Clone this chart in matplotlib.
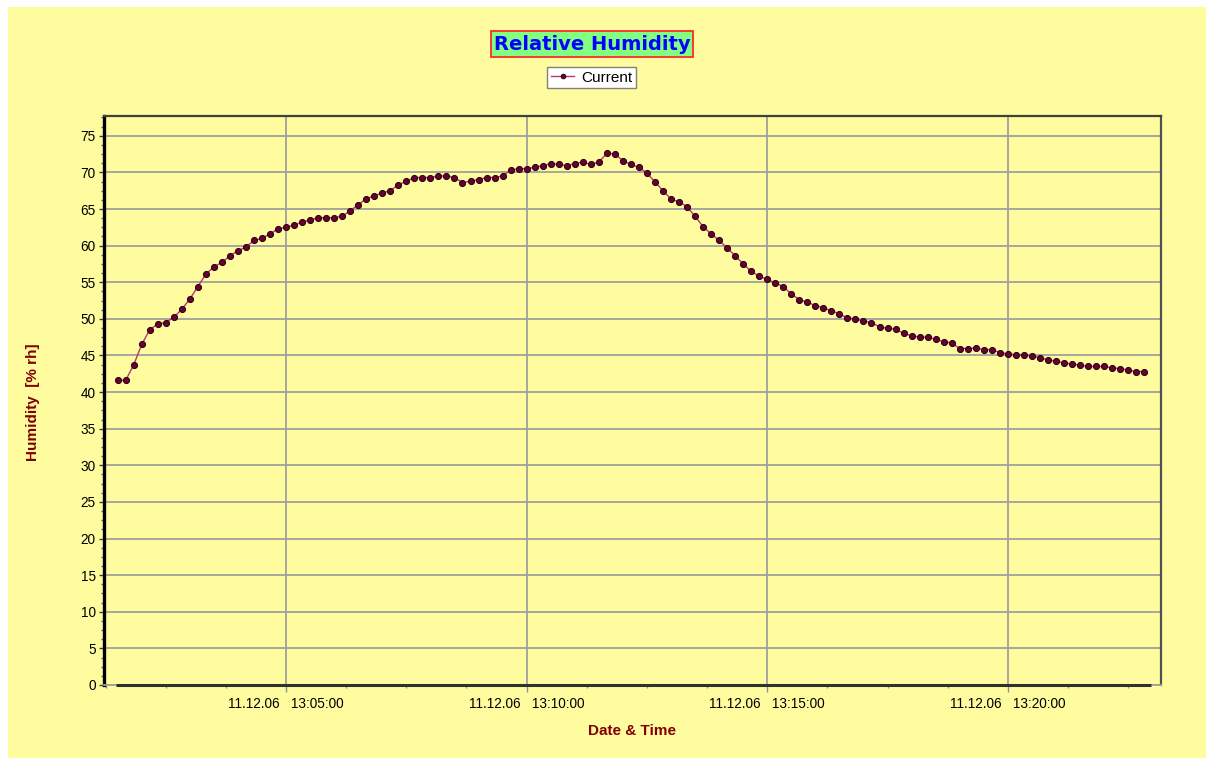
import matplotlib
matplotlib.use('Agg')
import matplotlib.pyplot as plt
import matplotlib.dates as mdates
import matplotlib.ticker as mticker
import pandas as pd
from matplotlib.patches import Rectangle
from matplotlib.lines import Line2D

# ---------------- data ----------------
start_time = '2006-12-11 13:01:30'
sample_interval = '10s'
humidity = [
    41.6, 41.6, 43.7, 46.5, 48.5, 49.3, 49.5, 50.2, 51.3, 52.7,
    54.4, 56.1, 57.1, 57.7, 58.6, 59.3, 59.8, 60.7, 61.0, 61.6,
    62.3, 62.5, 62.8, 63.2, 63.5, 63.8, 63.8, 63.8, 64.0, 64.75,
    65.6, 66.4, 66.8, 67.2, 67.5, 68.3, 68.8, 69.3, 69.3, 69.3,
    69.5, 69.5, 69.3, 68.6, 68.8, 69.0, 69.3, 69.3, 69.5, 70.3,
    70.5, 70.5, 70.7, 70.9, 71.2, 71.1, 70.9, 71.2, 71.4, 71.1,
    71.4, 72.6, 72.5, 71.6, 71.1, 70.7, 69.9, 68.7, 67.5, 66.35,
    66.0, 65.3, 64.0, 62.6, 61.6, 60.7, 59.7, 58.6, 57.5, 56.5,
    55.8, 55.4, 54.9, 54.4, 53.4, 52.6, 52.3, 51.8, 51.5, 51.1,
    50.7, 50.1, 50.0, 49.7, 49.5, 48.9, 48.7, 48.6, 48.0, 47.7,
    47.5, 47.5, 47.2, 46.9, 46.7, 45.95, 45.95, 46.0, 45.8, 45.8,
    45.4, 45.2, 45.1, 45.1, 44.9, 44.7, 44.4, 44.2, 44.0, 43.8,
    43.7, 43.5, 43.5, 43.5, 43.3, 43.2, 43.0, 42.8, 42.8,
]
series_name = 'Current'
chart_title = 'Relative Humidity'
x_label = 'Date & Time'
y_label = 'Humidity  [% rh]'
y_ticks = list(range(0, 80, 5))
x_limits = ('2006-12-11 13:01:13', '2006-12-11 13:23:11')
y_limits = (0, 77.7)

times = pd.date_range(start_time, periods=len(humidity), freq=sample_interval)

# ---------------- style ----------------
W, H = 1206, 758
YELLOW = '#FFFC9F'
DARKRED = '#800000'
plt.rcParams['font.family'] = ['Liberation Sans', 'DejaVu Sans']

fig = plt.figure(figsize=(W / 100, H / 100), dpi=100)
fig.patch.set_facecolor('white')
fig.add_artist(Rectangle((8 / W, 0), 1 - 8 / W, 1 - 7 / H,
                         transform=fig.transFigure, facecolor=YELLOW,
                         edgecolor='none', zorder=-10))

PLOT_L, PLOT_R, PLOT_T, PLOT_B = 104, 1161, 116, 685
ax = fig.add_axes([PLOT_L / W, 1 - PLOT_B / H, (PLOT_R - PLOT_L) / W, (PLOT_B - PLOT_T) / H])
ax.set_facecolor(YELLOW)

ax.plot(times, humidity, color='#B8386A', lw=1.0, marker='o', ms=4.4,
        mfc='#6A0030', mec='#200010', mew=0.7, zorder=5, label=series_name)

ax.set_xlim(pd.Timestamp(x_limits[0]), pd.Timestamp(x_limits[1]))
ax.set_ylim(*y_limits)

# grid
ax.set_yticks(y_ticks)
ax.yaxis.set_minor_locator(mticker.MultipleLocator(1.25))
ax.xaxis.set_major_locator(mdates.MinuteLocator(byminute=range(0, 60, 5)))
ax.xaxis.set_minor_locator(mticker.MultipleLocator(75 / 86400))
ax.xaxis.set_major_formatter(mdates.DateFormatter('%d.%m.%y   %H:%M:%S'))
ax.grid(True, which='major', color='#A0A0A0', lw=1.3, zorder=1)

# spines
ax.spines['left'].set_color('black')
ax.spines['left'].set_linewidth(2.4)
ax.spines['right'].set_color('#505050')
ax.spines['right'].set_linewidth(1.6)
ax.spines['top'].set_color('#404040')
ax.spines['top'].set_linewidth(1.6)
ax.spines['bottom'].set_color('#A0A0A0')
ax.spines['bottom'].set_linewidth(1.3)
# thick x axis line across the data span
ax.plot([times[0] - pd.Timedelta('2s'), times[-1] + pd.Timedelta('8s')],
        [0, 0], color='#303030', lw=2.2, solid_capstyle='butt',
        clip_on=False, zorder=6)

ax.tick_params(axis='y', which='major', length=3.5, width=1, color='#404040',
               labelsize=9.8, pad=2.5, labelcolor='black')
ax.tick_params(axis='y', which='minor', length=2.2, width=1, color='#606060')
ax.tick_params(axis='x', which='major', length=5, width=1, color='#909090',
               labelsize=9.8, pad=3.5, labelcolor='black')
ax.tick_params(axis='x', which='minor', length=2.5, width=1, color='#909090')
for lbl in ax.get_xticklabels():
    lbl.set_ha('center')

ax.set_xlabel(x_label, fontsize=11, fontweight='bold', color=DARKRED)
ax.xaxis.set_label_coords(0.5, -(731 - PLOT_B) / (PLOT_B - PLOT_T))
ax.set_ylabel(y_label, fontsize=11, fontweight='bold', color=DARKRED)
ax.yaxis.set_label_coords(-(PLOT_L - 33) / (PLOT_R - PLOT_L), (PLOT_B - 402) / (PLOT_B - PLOT_T))
ax.xaxis.label.set_va('center')
ax.yaxis.label.set_va('center')

# title
fig.text(592 / W, 1 - 44 / H, chart_title, ha='center', va='center',
         fontsize=14, fontweight='bold', color='#0000FF',
         family=['DejaVu Sans'],
         bbox=dict(boxstyle='square,pad=0.16', fc='#80FF80', ec='#FF2A2A', lw=1.3))

# legend
handle = Line2D([], [], color='#B8386A', lw=1.0, marker='o', ms=3.4,
                mfc='#6A0030', mec='#200010', mew=0.6)
leg = fig.legend([handle], [series_name], loc='center',
                 bbox_to_anchor=(591.5 / W, 1 - 77.5 / H),
                 bbox_transform=fig.transFigure, fontsize=11,
                 frameon=True, fancybox=False, framealpha=1,
                 edgecolor='#808080', handlelength=1.5, handletextpad=0.45,
                 borderpad=0.25, borderaxespad=0)
leg.get_frame().set_linewidth(1.0)

fig.savefig('out.png', dpi=100, facecolor=fig.get_facecolor())
